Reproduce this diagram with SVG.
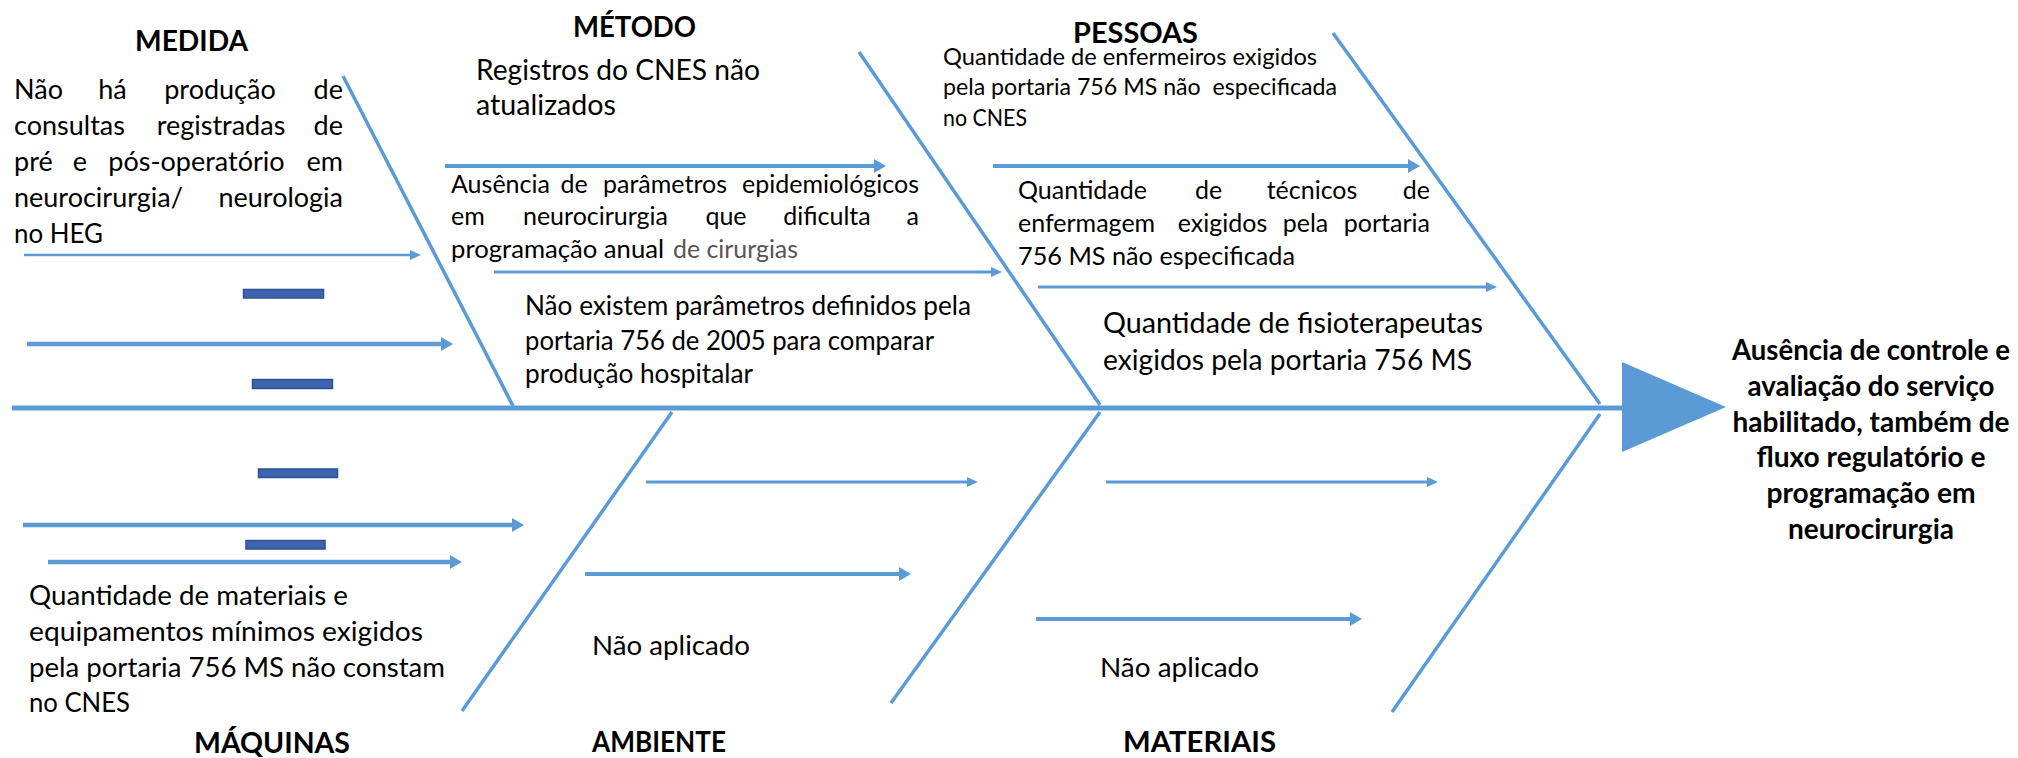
<svg xmlns="http://www.w3.org/2000/svg" width="2018" height="758" viewBox="0 0 2018 758">
<style>
.bone{stroke:#5B9BD5;stroke-width:3.5;fill:none}
.arr{stroke:#5B9BD5;fill:none}
.t{font-family:Lato,"Noto Sans","Liberation Sans",sans-serif;fill:#000}
.h{font-family:Lato,"Noto Sans","Liberation Sans",sans-serif;font-weight:700;fill:#000;font-size:28px}
.bar{fill:#3C64B1;stroke:#2F528F;stroke-width:1.5}
.e{text-anchor:end}
.m{text-anchor:middle}
.g{fill:#555555}
</style>
<defs>
<marker id="hl" markerUnits="userSpaceOnUse" markerWidth="14" markerHeight="16" refX="6" refY="7" orient="auto" overflow="visible">
<path d="M0,0 L12,7 L0,14 z" fill="#5B9BD5"/>
</marker>
<marker id="hs" markerUnits="userSpaceOnUse" markerWidth="12" markerHeight="12" refX="5" refY="5" orient="auto" overflow="visible">
<path d="M0,0 L11,5 L0,10 z" fill="#5B9BD5"/>
</marker>
</defs>

<g id="spine">
<line x1="12" y1="408" x2="1624" y2="408" stroke="#5B9BD5" stroke-width="5"/>
<polygon points="1622,362 1726,407 1622,452" fill="#5B9BD5"/>
</g>

<g id="connectors">
<line class="bone" x1="343" y1="76" x2="513" y2="406"/>
<line class="bone" x1="859" y1="52" x2="1100" y2="405"/>
<line class="bone" x1="1333" y1="33" x2="1600" y2="404"/>
<line class="bone" x1="672" y1="412" x2="462" y2="711"/>
<line class="bone" x1="1100" y1="412" x2="891" y2="703"/>
<line class="bone" x1="1600" y1="414" x2="1392" y2="712"/>
<line class="arr" x1="24" y1="255" x2="415" y2="255" stroke-width="2.5" marker-end="url(#hs)"/>
<line class="arr" x1="27" y1="344" x2="447" y2="344" stroke-width="4.5" marker-end="url(#hl)"/>
<line class="arr" x1="445" y1="166" x2="880" y2="166" stroke-width="4" marker-end="url(#hl)"/>
<line class="arr" x1="494" y1="272" x2="996" y2="272" stroke-width="3" marker-end="url(#hs)"/>
<line class="arr" x1="993" y1="166" x2="1414" y2="166" stroke-width="4" marker-end="url(#hl)"/>
<line class="arr" x1="1038" y1="287" x2="1491" y2="287" stroke-width="3" marker-end="url(#hs)"/>
<line class="arr" x1="23" y1="525" x2="518" y2="525" stroke-width="4.5" marker-end="url(#hl)"/>
<line class="arr" x1="48" y1="562" x2="456" y2="562" stroke-width="4.5" marker-end="url(#hl)"/>
<line class="arr" x1="646" y1="482" x2="972" y2="482" stroke-width="3" marker-end="url(#hs)"/>
<line class="arr" x1="585" y1="574" x2="905" y2="574" stroke-width="4" marker-end="url(#hl)"/>
<line class="arr" x1="1106" y1="482" x2="1432" y2="482" stroke-width="3" marker-end="url(#hs)"/>
<line class="arr" x1="1036" y1="619" x2="1356" y2="619" stroke-width="4" marker-end="url(#hl)"/>
</g>

<g id="medida">
<text class="h" x="135" y="51" textLength="113" lengthAdjust="spacingAndGlyphs">MEDIDA</text>
<g class="t" font-size="27">
<text x="14" y="99">Não</text><text class="m" x="112.5" y="99">há</text><text class="m" x="220" y="99">produção</text><text class="e" x="343" y="99">de</text>
<text x="14" y="135">consultas</text><text class="m" x="221" y="135">registradas</text><text class="e" x="343" y="135">de</text>
<text x="14" y="171">pré</text><text class="m" x="80" y="171">e</text><text class="m" x="196.5" y="171">pós-operatório</text><text class="e" x="343" y="171">em</text>
<text x="14" y="207">neurocirurgia/</text><text class="e" x="343" y="207">neurologia</text>
<text x="14" y="243" textLength="89" lengthAdjust="spacingAndGlyphs">no HEG</text>
</g>
<rect class="bar" x="243.5" y="289.5" width="80" height="8.5"/>
<rect class="bar" x="252.5" y="379.5" width="80" height="9"/>
</g>

<g id="metodo">
<text class="h" x="573" y="37" textLength="123" lengthAdjust="spacingAndGlyphs">MÉTODO</text>
<g class="t" font-size="28">
<text x="476" y="80" textLength="284" lengthAdjust="spacingAndGlyphs">Registros do CNES não</text>
<text x="476" y="115" textLength="140" lengthAdjust="spacingAndGlyphs">atualizados</text>
</g>
<g class="t" font-size="25">
<text x="451" y="193">Ausência</text><text class="m" x="574" y="193">de</text><text class="m" x="665" y="193">parâmetros</text><text class="e" x="919" y="193">epidemiológicos</text>
<text x="451" y="225">em</text><text class="m" x="595.5" y="225">neurocirurgia</text><text class="m" x="726" y="225">que</text><text class="m" x="827" y="225">dificulta</text><text class="e" x="919" y="225">a</text>
<text x="451" y="258" textLength="213" lengthAdjust="spacingAndGlyphs">programação anual</text>
<text class="g" x="673" y="258" textLength="125" lengthAdjust="spacingAndGlyphs">de cirurgias</text>
</g>
<g class="t" font-size="26">
<text x="525" y="315" textLength="446" lengthAdjust="spacingAndGlyphs">Não existem parâmetros definidos pela</text>
<text x="525" y="350" textLength="409" lengthAdjust="spacingAndGlyphs">portaria 756 de 2005 para comparar</text>
<text x="525" y="383" textLength="228" lengthAdjust="spacingAndGlyphs">produção hospitalar</text>
</g>
</g>

<g id="pessoas">
<text class="h" x="1073" y="43" textLength="125" lengthAdjust="spacingAndGlyphs">PESSOAS</text>
<g class="t" font-size="23">
<text x="943" y="65" textLength="374" lengthAdjust="spacingAndGlyphs">Quantidade de enfermeiros exigidos</text>
<text x="943" y="95" textLength="394" lengthAdjust="spacingAndGlyphs" style="white-space:pre">pela portaria 756 MS não  especificada</text>
<text x="943" y="126" textLength="84" lengthAdjust="spacingAndGlyphs">no CNES</text>
</g>
<g class="t" font-size="25">
<text x="1018" y="199">Quantidade</text><text class="m" x="1208.5" y="199">de</text><text class="m" x="1312" y="199">técnicos</text><text class="e" x="1430" y="199">de</text>
<text x="1018" y="232">enfermagem</text><text class="m" x="1222.5" y="232">exigidos</text><text class="m" x="1305.5" y="232">pela</text><text class="e" x="1430" y="232">portaria</text>
<text x="1018" y="265" textLength="277" lengthAdjust="spacingAndGlyphs">756 MS não especificada</text>
</g>
<g class="t" font-size="28">
<text x="1103" y="333" textLength="380" lengthAdjust="spacingAndGlyphs">Quantidade de fisioterapeutas</text>
<text x="1103" y="370" textLength="369" lengthAdjust="spacingAndGlyphs">exigidos pela portaria 756 MS</text>
</g>
</g>

<g id="maquinas">
<rect class="bar" x="258.5" y="469" width="79" height="8.5"/>
<rect class="bar" x="246" y="540.5" width="79" height="8.5"/>
<g class="t" font-size="27">
<text x="29" y="605" textLength="319" lengthAdjust="spacingAndGlyphs">Quantidade de materiais e</text>
<text x="29" y="641" textLength="394" lengthAdjust="spacingAndGlyphs">equipamentos mínimos exigidos</text>
<text x="29" y="677" textLength="416" lengthAdjust="spacingAndGlyphs">pela portaria 756 MS não constam</text>
<text x="29" y="712" textLength="101" lengthAdjust="spacingAndGlyphs">no CNES</text>
</g>
<text class="h" x="194" y="753" textLength="156" lengthAdjust="spacingAndGlyphs">MÁQUINAS</text>
</g>

<g id="ambiente">
<text class="t" font-size="27.5" x="592" y="655" textLength="158" lengthAdjust="spacingAndGlyphs">Não aplicado</text>
<text class="h" x="592" y="752" textLength="134" lengthAdjust="spacingAndGlyphs">AMBIENTE</text>
</g>

<g id="materiais">
<text class="t" font-size="27.5" x="1100" y="677" textLength="159" lengthAdjust="spacingAndGlyphs">Não aplicado</text>
<text class="h" x="1123" y="752" textLength="153" lengthAdjust="spacingAndGlyphs">MATERIAIS</text>
</g>

<g id="efeito" class="h m" font-size="27">
<text x="1871" y="360" textLength="278" lengthAdjust="spacingAndGlyphs">Ausência de controle e</text>
<text x="1871" y="396" textLength="247" lengthAdjust="spacingAndGlyphs">avaliação do serviço</text>
<text x="1871" y="432" textLength="277" lengthAdjust="spacingAndGlyphs">habilitado, também de</text>
<text x="1871" y="467" textLength="229" lengthAdjust="spacingAndGlyphs">fluxo regulatório e</text>
<text x="1871" y="503" textLength="209" lengthAdjust="spacingAndGlyphs">programação em</text>
<text x="1871" y="539" textLength="166" lengthAdjust="spacingAndGlyphs">neurocirurgia</text>
</g>
</svg>
